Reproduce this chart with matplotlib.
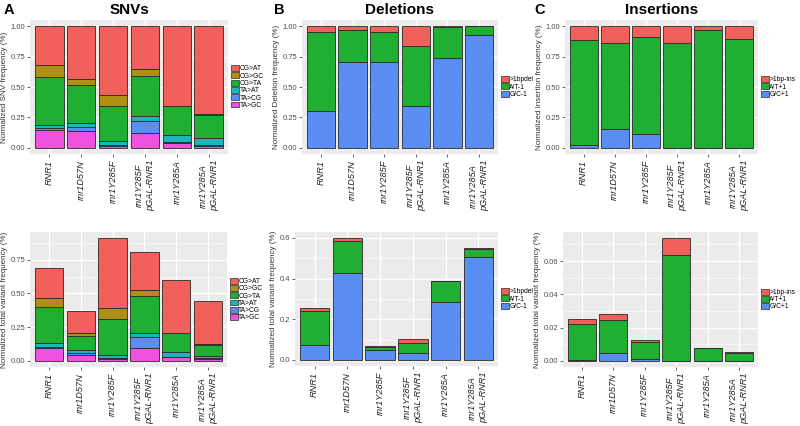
import matplotlib
matplotlib.use("Agg")
import matplotlib.pyplot as plt
import numpy as np
from matplotlib.patches import Patch
from matplotlib.ticker import MultipleLocator

plt.rcParams["font.family"] = ["Liberation Sans", "DejaVu Sans"]

strains = ["RNR1", "rnr1D57N", "rnr1Y285F", "rnr1Y285F\npGAL-RNR1",
           "rnr1Y285A", "rnr1Y285A\npGAL-RNR1"]

# SNVs, stacked bottom -> top
snv_cats = ["TA>GC", "TA>CG", "TA>AT", "CG>TA", "CG>GC", "CG>AT"]
snv_norm = {
    "TA>GC": [0.143, 0.137, 0.019, 0.119, 0.040, 0.013],
    "TA>CG": [0.019, 0.036, 0.005, 0.102, 0.008, 0.014],
    "TA>AT": [0.027, 0.035, 0.030, 0.038, 0.054, 0.054],
    "CG>TA": [0.396, 0.307, 0.286, 0.334, 0.240, 0.191],
    "CG>GC": [0.094, 0.048, 0.094, 0.054, 0.003, 0.004],
    "CG>AT": [0.321, 0.437, 0.566, 0.353, 0.655, 0.724],
}
snv_total = {
    "TA>GC": [0.094, 0.042, 0.017, 0.094, 0.027, 0.012],
    "TA>CG": [0.012, 0.020, 0.005, 0.082, 0.003, 0.008],
    "TA>AT": [0.023, 0.015, 0.025, 0.032, 0.034, 0.015],
    "CG>TA": [0.274, 0.111, 0.262, 0.270, 0.139, 0.086],
    "CG>GC": [0.062, 0.017, 0.085, 0.047, 0.003, 0.003],
    "CG>AT": [0.223, 0.164, 0.516, 0.285, 0.393, 0.317],
}

# Deletions
del_cats = ["G/C-1", "A/T-1", ">1bpdel"]
del_norm = {
    "G/C-1": [0.299, 0.709, 0.709, 0.348, 0.739, 0.927],
    "A/T-1": [0.655, 0.261, 0.245, 0.492, 0.256, 0.070],
    ">1bpdel": [0.046, 0.030, 0.046, 0.160, 0.005, 0.003],
}
del_total = {
    "G/C-1": [0.074, 0.425, 0.048, 0.034, 0.287, 0.508],
    "A/T-1": [0.167, 0.160, 0.014, 0.051, 0.100, 0.039],
    ">1bpdel": [0.013, 0.014, 0.007, 0.017, 0.003, 0.002],
}

# Insertions
ins_cats = ["G/C+1", "A/T+1", ">1bp-ins"]
ins_norm = {
    "G/C+1": [0.024, 0.159, 0.111, 0.0, 0.0, 0.0],
    "A/T+1": [0.865, 0.706, 0.803, 0.865, 0.965, 0.897],
    ">1bp-ins": [0.111, 0.135, 0.086, 0.135, 0.035, 0.103],
}
ins_total = {
    "G/C+1": [0.0006, 0.0048, 0.0012, 0.0, 0.0, 0.0],
    "A/T+1": [0.0215, 0.0197, 0.0103, 0.0639, 0.0078, 0.0050],
    ">1bp-ins": [0.0028, 0.0038, 0.0010, 0.0099, 0.0001, 0.0002],
}

snv_colors = {"CG>AT": "#F2605B", "CG>GC": "#AE9012", "CG>TA": "#20AE33",
              "TA>AT": "#1DB5BA", "TA>CG": "#5B8EF2", "TA>GC": "#EE52DF"}
three_colors = ["#5B8EF2", "#20AE33", "#F2605B"]

W, H = 800, 426
fig = plt.figure(figsize=(8, 4.26), dpi=100)


def px_axes(x0, y0, x1, y1):
    return fig.add_axes([x0 / W, 1 - y1 / H, (x1 - x0) / W, (y1 - y0) / H])


def stacked(ax, cats, data, colors, yticks, fmt, ylabel):
    x = np.arange(len(strains))
    bottom = np.zeros(len(strains))
    for cat in cats:
        vals = np.array(data[cat])
        ax.bar(x, vals, 0.9, bottom=bottom, color=colors[cat],
               edgecolor="#2a2a2a", linewidth=0.6, zorder=3)
        bottom += vals
    top = bottom.max()
    ax.set_ylim(-0.05 * top, top * 1.05)
    ax.set_xlim(-0.6, len(strains) - 0.4)
    ax.set_facecolor("#EBEBEB")
    for s in ax.spines.values():
        s.set_visible(False)
    ax.set_yticks(yticks)
    ax.set_yticklabels([fmt.format(v) for v in yticks])
    step = yticks[1] - yticks[0]
    ax.yaxis.set_minor_locator(MultipleLocator(step / 2))
    ax.grid(True, which="major", color="white", linewidth=0.9, zorder=0)
    ax.grid(True, which="minor", axis="y", color="white", linewidth=0.4, zorder=0)
    ax.set_axisbelow(True)
    ax.set_xticks(x)
    ax.set_xticklabels(strains, rotation=90, style="italic", fontsize=6.6,
                       color="#222222", va="top", ha="center", linespacing=1.3)
    ax.tick_params(axis="y", labelsize=5.5, colors="#4D4D4D", length=2.2,
                   width=0.6, pad=1.2, which="major")
    ax.tick_params(axis="y", which="minor", length=0)
    ax.tick_params(axis="x", colors="#4D4D4D", length=2.2, width=0.6, pad=2)
    for lab in ax.get_xticklabels():
        lab.set_color("#222222")
    for lab in ax.get_yticklabels():
        lab.set_color("#4D4D4D")
    ax.set_ylabel(ylabel, fontsize=5.8, color="#333333", labelpad=2)
    handles = [Patch(facecolor=colors[c], edgecolor="#2a2a2a", linewidth=0.5, label=c)
               for c in reversed(cats)]
    ax.legend(handles=handles, loc="center left", bbox_to_anchor=(1.01, 0.5),
              frameon=False, fontsize=4.8, handlelength=1.2, handleheight=1.0,
              labelspacing=0.0, handletextpad=0.1, borderaxespad=0.0,
              borderpad=0.1)


del_colors = dict(zip(del_cats, three_colors))
ins_colors = dict(zip(ins_cats, three_colors))

axA1 = px_axes(30, 20, 228, 154)
stacked(axA1, snv_cats, snv_norm, snv_colors, [0, 0.25, 0.5, 0.75, 1.0], "{:.2f}",
        "Normalized SNV frequency (%)")
axA2 = px_axes(30, 232, 227, 367)
stacked(axA2, snv_cats, snv_total, snv_colors, [0, 0.25, 0.5, 0.75], "{:.2f}",
        "Normalized total variant frequency (%)")

axB1 = px_axes(302, 20, 498, 154)
stacked(axB1, del_cats, del_norm, del_colors, [0, 0.25, 0.5, 0.75, 1.0], "{:.2f}",
        "Normalized Deletion frequency (%)")
axB2 = px_axes(295, 232, 498, 366)
stacked(axB2, del_cats, del_total, del_colors, [0, 0.2, 0.4, 0.6], "{:.1f}",
        "Normalized total variant frequency (%)")

axC1 = px_axes(565, 20, 758, 154)
stacked(axC1, ins_cats, ins_norm, ins_colors, [0, 0.25, 0.5, 0.75, 1.0], "{:.2f}",
        "Normalized Insertion frequency (%)")
axC2 = px_axes(563, 232, 758, 367)
stacked(axC2, ins_cats, ins_total, ins_colors, [0, 0.02, 0.04, 0.06], "{:.2f}",
        "Normalized total variant frequency (%)")

for ax, title in [(axA1, "SNVs"), (axB1, "Deletions"), (axC1, "Insertions")]:
    ax.set_title(title, fontsize=11, fontweight="bold", pad=4)

for xp, letter in [(4, "A"), (274, "B"), (534, "C")]:
    fig.text(xp / W, 1 - 14 / H, letter, fontsize=10.5, fontweight="bold")

fig.savefig("out.png", dpi=100)
